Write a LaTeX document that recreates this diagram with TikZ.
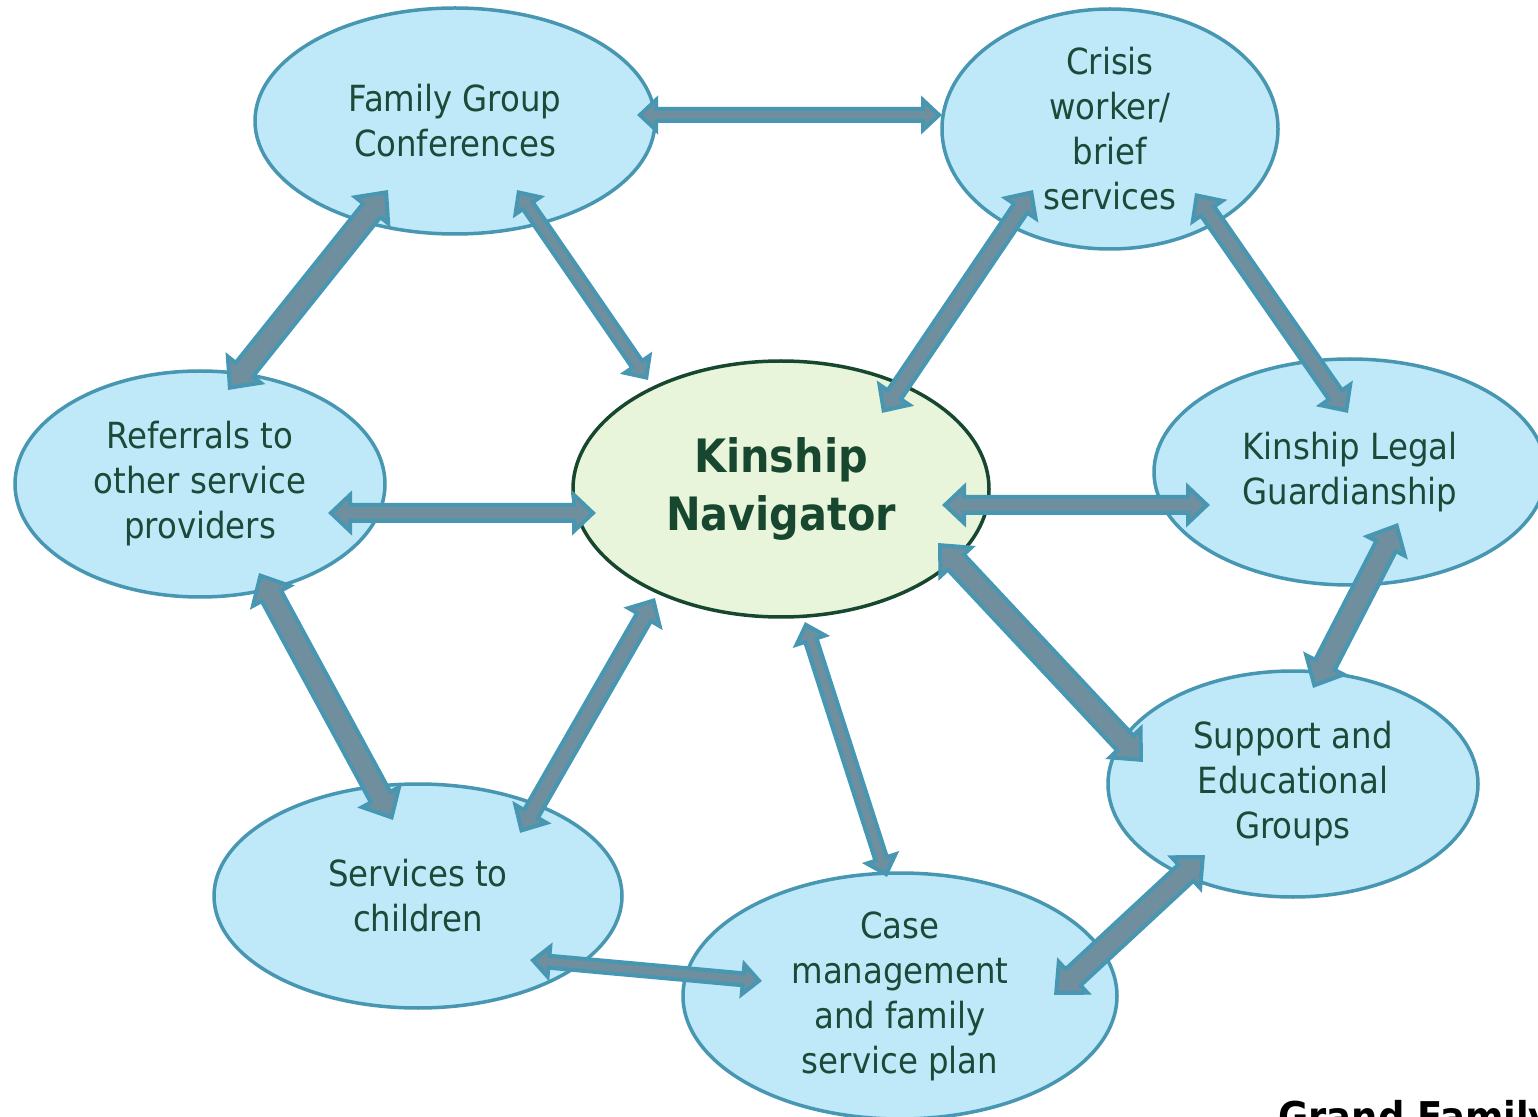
\documentclass[tikz,border=0pt]{standalone}
\usepackage{fontspec}
\setmainfont{DejaVu Sans Condensed}
\usetikzlibrary{shapes.geometric,calc}
\definecolor{tealc}{HTML}{4797B2}
\definecolor{arrowfill}{HTML}{6F8F9E}
\definecolor{bluef}{HTML}{BFE9F8}
\definecolor{navfill}{HTML}{E8F5DA}
\definecolor{navborder}{HTML}{17472F}
\definecolor{txtc}{HTML}{1D4A38}
\begin{document}
\begin{tikzpicture}[x=0.5pt,y=-0.5pt,
  bub/.style={ellipse, draw=tealc, line width=1.75pt, fill=bluef, text=txtc,
    align=center, inner sep=-15pt, font=\fontsize{18}{22.5}\selectfont},
  navnode/.style={ellipse, draw=navborder, line width=1.75pt, fill=navfill, text=navborder,
    align=center, inner sep=-15pt, font=\bfseries\fontsize{23}{29}\selectfont},
  barrow-s/.code={\def\bS{3pt}\def\bH{7.5pt}\def\bL{9.5pt}},
  barrow-m/.code={\def\bS{4pt}\def\bH{9pt}\def\bL{11pt}},
  barrow-l/.code={\def\bS{5.5pt}\def\bH{10.5pt}\def\bL{13pt}},
  blk/.style={draw=tealc, fill=arrowfill, line width=2pt, line join=miter,
    to path={
      ($(\tikztostart)!1.5pt!(\tikztotarget)$)
      -- ($(\tikztostart)!\bL!(\tikztotarget)!\bH!90:(\tikztotarget)$)
      -- ($(\tikztostart)!\bL!(\tikztotarget)!\bS!90:(\tikztotarget)$)
      -- ($(\tikztotarget)!\bL!(\tikztostart)!\bS!-90:(\tikztostart)$)
      -- ($(\tikztotarget)!\bL!(\tikztostart)!\bH!-90:(\tikztostart)$)
      -- ($(\tikztotarget)!1.5pt!(\tikztostart)$)
      -- ($(\tikztotarget)!\bL!(\tikztostart)!\bH!90:(\tikztostart)$)
      -- ($(\tikztotarget)!\bL!(\tikztostart)!\bS!90:(\tikztostart)$)
      -- ($(\tikztostart)!\bL!(\tikztotarget)!\bS!-90:(\tikztotarget)$)
      -- ($(\tikztostart)!\bL!(\tikztotarget)!\bH!-90:(\tikztotarget)$)
      -- cycle}}
]
\clip (0,0) rectangle (1538,1117);
\fill[white] (0,0) rectangle (1538,1117);

% bubbles
\node[bub, minimum width=200pt, minimum height=113pt] (fgc) at (455,121) {Family Group\\Conferences};
\node[bub, minimum width=168pt, minimum height=120pt] (crisis) at (1110,129) {Crisis\\worker/\\brief\\services};
\node[bub, minimum width=185pt, minimum height=113pt] (ref) at (200,484) {Referrals to\\other service\\providers};
\node[navnode, minimum width=208pt, minimum height=128pt] (nav) at (781,489) {Kinship\\Navigator};
\node[bub, minimum width=196pt, minimum height=113pt] (klg) at (1350,472) {Kinship Legal\\Guardianship};
\node[bub, minimum width=185pt, minimum height=113pt] (sup) at (1293,784) {Support and\\Educational\\Groups};
\node[bub, minimum width=204pt, minimum height=112pt] (serv) at (418,896) {Services to\\children};
\node[bub, minimum width=217pt, minimum height=123pt] (case) at (900,996) {Case\\management\\and family\\service plan};

\node[anchor=base west, font=\bfseries\fontsize{20.5}{24}\selectfont, text=black, inner sep=0pt] (gf) at (1278,1131) {Grand Family};

% arrow end points
\coordinate (a1) at (637,115);  \coordinate (a2) at (942,115);
\coordinate (b1) at (388,190);  \coordinate (b2) at (228,390);
\coordinate (c1) at (517,190);  \coordinate (c2) at (648,380);
\coordinate (d1) at (1033,190); \coordinate (d2) at (882,413);
\coordinate (e1) at (1195,193); \coordinate (e2) at (1348,413);
\coordinate (f1) at (328,513);  \coordinate (f2) at (596,513);
\coordinate (g1) at (942,505);  \coordinate (g2) at (1210,505);
\coordinate (h1) at (259,573);  \coordinate (h2) at (393,820);
\coordinate (i1) at (520,833);  \coordinate (i2) at (655,598);
\coordinate (j1) at (805,622);  \coordinate (j2) at (887,877);
\coordinate (k1) at (938,543);  \coordinate (k2) at (1143,762);
\coordinate (l1) at (1398,523); \coordinate (l2) at (1313,688);
\coordinate (m1) at (530,960);  \coordinate (m2) at (762,981);
\coordinate (n1) at (1054,995); \coordinate (n2) at (1205,855);

\draw[blk, barrow-s] (a1) to (a2);
\draw[blk, barrow-l] (b1) to (b2);
\draw[blk, barrow-s] (c1) to (c2);
\draw[blk, barrow-m] (d1) to (d2);
\draw[blk, barrow-m] (e1) to (e2);
\draw[blk, barrow-m] (f1) to (f2);
\draw[blk, barrow-m] (g1) to (g2);
\draw[blk, barrow-l] (h1) to (h2);
\draw[blk, barrow-m] (i1) to (i2);
\draw[blk, barrow-s] (j1) to (j2);
\draw[blk, barrow-l] (k1) to (k2);
\draw[blk, barrow-l] (l1) to (l2);
\draw[blk, barrow-s] (m1) to (m2);
\draw[blk, barrow-l] (n1) to (n2);
\end{tikzpicture}
\end{document}
